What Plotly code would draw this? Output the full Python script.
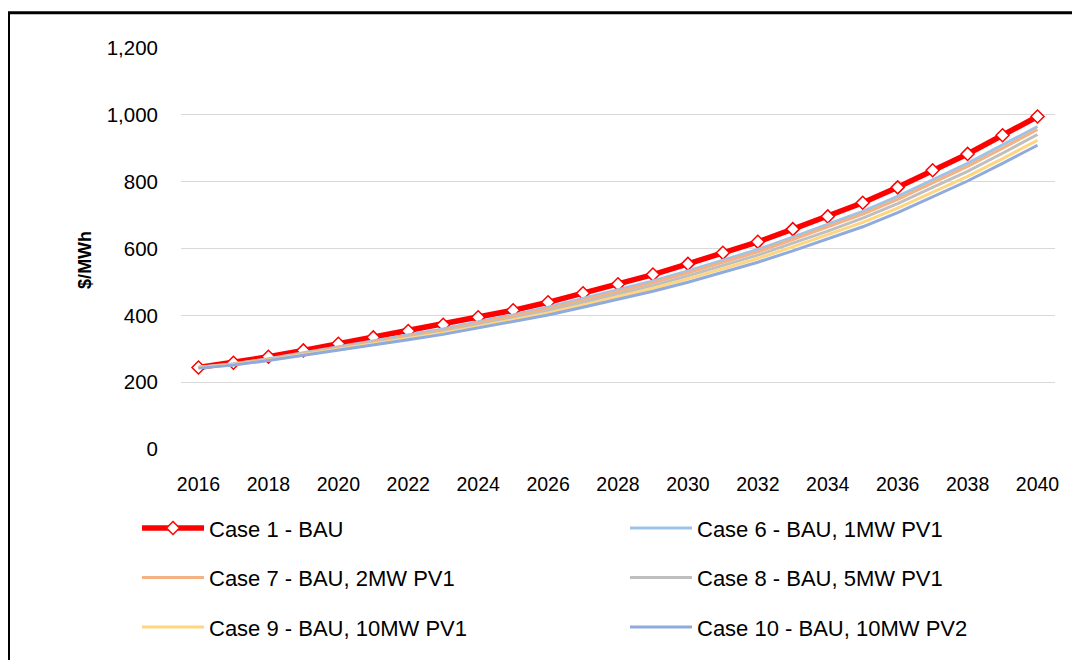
import plotly.graph_objects as go

years = list(range(2016, 2041))
tick_years = list(range(2016, 2041, 2))
y_ticks = [0, 200, 400, 600, 800, 1000, 1200]

case1 = [244, 258, 276, 295, 315, 334, 353, 372, 394, 415, 439, 466, 493, 522, 554,
         587, 620, 658, 696, 737, 783, 834, 883, 939, 995]
case6 = [245, 255, 270, 288, 306, 323, 341, 359, 381, 401, 424, 450, 475, 503, 533,
         565, 597, 634, 672, 711, 756, 806, 855, 910, 965]
case7 = [245, 254, 269, 286, 303, 320, 338, 355, 377, 397, 419, 445, 470, 497, 527,
         559, 590, 627, 664, 703, 747, 797, 846, 900, 956]
case8 = [244, 253, 267, 284, 300, 317, 334, 351, 372, 391, 413, 438, 462, 489, 518,
         549, 580, 616, 652, 691, 734, 783, 831, 885, 941]
case9 = [243, 252, 266, 282, 297, 314, 330, 347, 367, 386, 407, 431, 455, 481, 509,
         539, 570, 605, 641, 678, 721, 769, 816, 869, 924]
case10 = [242, 251, 265, 280, 295, 311, 327, 343, 362, 380, 401, 424, 447, 472, 499,
          528, 559, 593, 628, 665, 707, 755, 802, 855, 909]

names = ["Case 1 - BAU", "Case 6 - BAU, 1MW PV1", "Case 7 - BAU, 2MW PV1",
         "Case 8 - BAU, 5MW PV1", "Case 9 - BAU, 10MW PV1", "Case 10 - BAU, 10MW PV2"]
series = [case1, case6, case7, case8, case9, case10]
colors = ["#FF0000", "#9DC3E6", "#F4B183", "#BFBFBF", "#FFD580", "#8FAADC"]
legend_ids = ["legend", "legend2", "legend3", "legend4", "legend5", "legend6"]

FONT = "Liberation Sans, Arial, sans-serif"

fig = go.Figure()
for i, (nm, vals, col, lg) in enumerate(zip(names, series, colors, legend_ids)):
    if i == 0:
        fig.add_trace(go.Scatter(
            x=years, y=vals, name=nm, mode="lines+markers",
            line=dict(color=col, width=5.5),
            marker=dict(symbol="diamond", size=10, color="white",
                        line=dict(color=col, width=1.5)),
            legend=lg))
    else:
        fig.add_trace(go.Scatter(
            x=years, y=vals, name=nm, mode="lines",
            line=dict(color=col, width=3), legend=lg))

# page offset of 8px (body margin) -> figure coords = page - 8
OFF = 8
W, H = 1072, 652
L, T = 181 - OFF, 48 - OFF
R = W - (1055 - OFF)
B = H - (453 - OFF)
pw, ph = W - L - R, H - T - B

def px_x(p):
    return (p - OFF - L) / pw

def px_y(p):
    return (H - B - (p - OFF)) / ph

col_x = [137, 625]
row_y = [533, 583, 633]
legend_layout = {}
for k, lg in enumerate(legend_ids):
    legend_layout[lg] = dict(
        orientation="h", itemwidth=62,
        font=dict(family=FONT, size=22, color="#000000"),
        bgcolor="rgba(0,0,0,0)", xanchor="left", yanchor="middle",
        x=px_x(col_x[k % 2]), y=px_y(row_y[k // 2]))

fig.update_layout(
    width=W, height=H,
    margin=dict(l=L, r=R, t=T, b=B),
    paper_bgcolor="white", plot_bgcolor="white",
    font=dict(family=FONT, size=20, color="#000000"),
    showlegend=True,
    **legend_layout,
    xaxis=dict(range=[2015.5, 2040.5], tickvals=tick_years,
               ticktext=[str(t) for t in tick_years],
               showgrid=False, zeroline=False, showline=False,
               ticks="", ticklabelstandoff=21,
               tickfont=dict(family=FONT, size=19.5, color="#000000")),
    yaxis=dict(range=[0, 1200], tickvals=y_ticks, tickformat=",d",
               showgrid=True, gridcolor="#D9D9D9", gridwidth=1.4,
               zeroline=False, showline=False, ticks="",
               ticklabelstandoff=22,
               tickfont=dict(family=FONT, size=20.5, color="#000000")),
    shapes=[dict(type="rect", xref="paper", yref="paper",
                 x0=px_x(8.5), x1=px_x(1095), y0=px_y(680), y1=px_y(12.5),
                 line=dict(color="black", width=3), fillcolor="rgba(0,0,0,0)",
                 layer="above")],
    annotations=[dict(text="<b>$/MWh</b>", xref="paper", yref="paper",
                      x=px_x(85), y=px_y(262), textangle=-90, showarrow=False,
                      xanchor="center", yanchor="middle",
                      font=dict(family=FONT, size=18, color="#000000"))],
)

fig.write_html("out.html")
